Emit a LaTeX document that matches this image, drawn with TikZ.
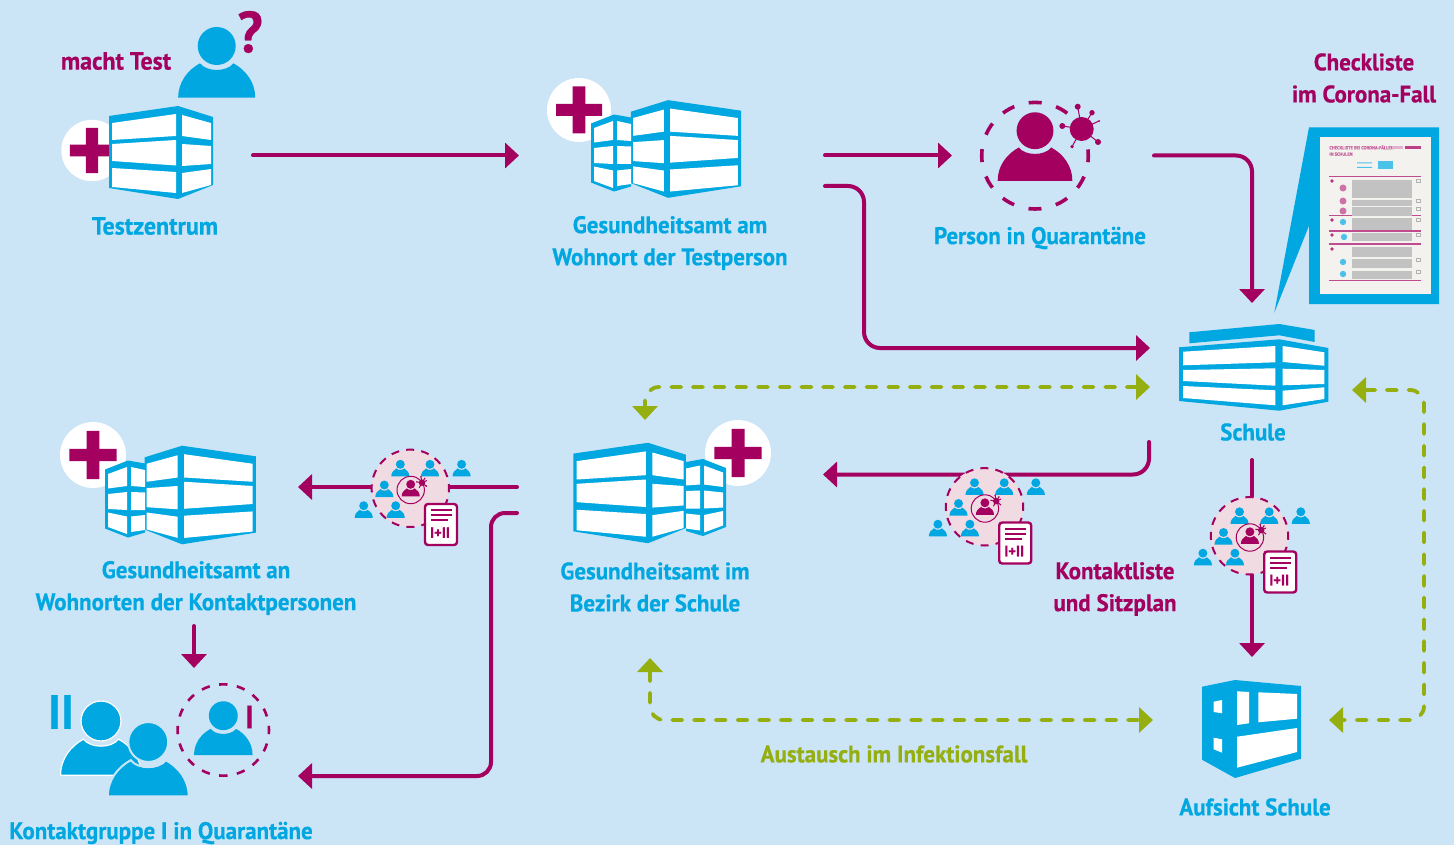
\documentclass[tikz,border=0pt]{standalone}
\usepackage{fontspec}
\usepackage{xcolor}
\usepackage{tikz}
\usetikzlibrary{arrows.meta}
\setmainfont[BoldFeatures={FakeStretch=.958,FakeBold=.5}]{PT Sans}
\definecolor{hintergrund}{HTML}{CBE4F6}
\definecolor{amtblau}{HTML}{00A7E0}
\definecolor{lila}{HTML}{A4005F}
\definecolor{gruen}{HTML}{95AE10}
\definecolor{rosa}{HTML}{F0DBE3}
\definecolor{papier}{HTML}{F4F2EF}
\tikzset{
	pics/person/.style={code={
		\path[pic actions] (0,0) circle[radius=19];
		\path[pic actions] (-38.5,51.7) .. controls (-38.5,36) and (-29,24) .. (-16.7,17.3) .. controls (-10,26.2) and (10,26.2) .. (16.7,17.3) .. controls (29,24) and (38.5,36) .. (38.5,51.7) -- cycle;
	}},
	pics/virus/.style={code={
		\foreach \kx/\ky/\kr in {-4/-22.3/3,10.3/-16.3/2.7,17.3/-8/1,16.3/13/3,-9.7/17.7/1.8,-19.4/-3/3}{
			\draw[lila,line width=.5pt] (0,0) -- (\kx,\ky);
			\fill[lila] (\kx,\ky) circle[radius=\kr];
		}
		\fill[lila] (0,0) circle[radius=12];
	}},
	pics/block/.style={code={
		\fill[amtblau] (-69,-36.5) -- (0,-46.5) -- (35,-35.5) -- (35,32.5) -- (0,46.5) -- (-69,35.5) -- cycle;
		\fill[white] (-66,-29.5) -- (-2,-38.5) -- (-2,-16.5) -- (-66,-12.5) -- cycle
			(-66,-8.5) -- (-2,-12.5) -- (-2,13) -- (-66,8.5) -- cycle
			(-66,15.5) -- (-2,19.5) -- (-2,40.5) -- (-66,34.5) -- cycle
			(4,-37.5) -- (33,-29.5) -- (33,-12.5) -- (4,-16.5) -- cycle
			(4,-8.5) -- (33,-6.5) -- (33,11.5) -- (4,13.5) -- cycle
			(4,20.5) -- (33,16.5) -- (33,32.5) -- (4,40.5) -- cycle;
	}},
	pics/anbau/.style={code={
		\fill[amtblau] (-17,-35.5) -- (0,-38.5) -- (23,-29.5) -- (23,29.5) -- (0,38.5) -- (-17,33.5) -- cycle;
		\fill[white] (-17,-29) -- (-3,-32) -- (-3,-13) -- (-17,-12) -- cycle
			(-17,-6.5) -- (-3,-7) -- (-3,11) -- (-17,11) -- cycle
			(-17,16) -- (-3,17.5) -- (-3,33) -- (-17,31) -- cycle
			(1,-32) -- (20,-25) -- (20,-10.5) -- (1,-13) -- cycle
			(1,-7) -- (20,-5) -- (20,10) -- (1,11) -- cycle
			(1,17.5) -- (20,13.5) -- (20,28) -- (1,35) -- cycle;
	}},
	pics/kreuz/.style={code={
		\fill[white] (0,0) circle[radius=32];
		\fill[lila] (-23,-6) rectangle (23,6) (-6.3,-23.5) rectangle (6.3,23.5);
	}},
	pics/liste/.style={code={
		\draw[lila,fill=white,line width=1.2pt,rounded corners=1.5pt] (-16,-20.5) rectangle (16,20.5);
		\draw[lila,line width=1pt] (-10,-14.5) -- (11,-14.5) (-10,-9.5) -- (11,-9.5) (-10,-4.5) -- (7,-4.5);
		\node[text=lila,font=\fontsize{7.5}{8}\selectfont\bfseries,inner sep=0pt] (-nummer) at (-1,8) {I+II};
	}},
	pics/kontakt/.style={code={
		\draw[lila,fill=rosa,line width=1pt,dash pattern=on 4pt off 3.59pt,dash phase=2pt] (0,0) circle[radius=38.7];
		\foreach \kx/\ky in {-10/-24,19.7/-24,51.3/-24,-26/-3.3,-46.6/17.4,-14.6/17.4}{
			\pic[fill=amtblau,scale=.235] at (\kx,\ky) {person};
		}
		\draw[lila,line width=.5pt] (.4,1.7) circle[radius=13.7];
		\pic[fill=lila,scale=.235] at (.4,-4) {person};
		\pic[scale=.27] at (11.7,-5.6) {virus};
		\pic (-doc) at (30.7,36.2) {liste};
	}},
	lilapfeil/.style={lila,line width=2pt,line cap=round,-{Triangle[length=7pt,width=12.5pt]}},
	gruenpfeil/.style={gruen,line width=1.9pt,line cap=round,dash pattern=on 5pt off 5.85pt,rounded corners=7pt,{Triangle[length=7pt,width=12.5pt]}-{Triangle[length=7pt,width=12.5pt]}},
	blautext/.style={text=amtblau,font=\fontsize{12}{16}\selectfont\bfseries,align=center,inner sep=0pt},
	lilatext/.style={text=lila,font=\fontsize{12}{16}\selectfont\bfseries,align=center,inner sep=0pt},
	gruentext/.style={text=gruen,font=\fontsize{12}{16}\selectfont\bfseries,align=center,inner sep=0pt}
}
\begin{document}
\begin{tikzpicture}[x=.5pt,y=-.5pt]
	\fill[hintergrund] (0,0) rectangle (1454,845);
	\useasboundingbox (0,0) rectangle (1454,845);

	\coordinate (zentrumOut) at (253,155.5);
	\coordinate (wohnortIn) at (519,155.5);
	\coordinate (wohnortOutA) at (825,155.5);
	\coordinate (quarantaeneIn) at (952,155.5);
	\coordinate (wohnortOutB) at (825,186);
	\coordinate (wohnortVia) at (864,270);
	\coordinate (schuleInA) at (1150,348);
	\coordinate (quarantaeneOut) at (1154,155.5);
	\coordinate (schuleInB) at (1252,303);
	\coordinate (schuleOutA) at (1149,442);
	\coordinate (bezirkIn) at (823,474.5);
	\coordinate (schuleOutB) at (1252,460);
	\coordinate (aufsichtIn) at (1252,657);
	\coordinate (bezirkOutA) at (517,487);
	\coordinate (kontaktIn) at (298,487);
	\coordinate (bezirkOutB) at (517,513);
	\coordinate (bezirkVia) at (491,640);
	\coordinate (gruppeIn) at (298,776);
	\coordinate (kontaktOut) at (194,626);
	\coordinate (gruppeTop) at (194,668);
	\coordinate (schuleLinks) at (1150,387);
	\coordinate (bezirkOben) at (645,420);
	\coordinate (bezirkUnten) at (650,658);
	\coordinate (aufsichtLinks) at (1153,720);
	\coordinate (schuleRechts) at (1352,390);
	\coordinate (aufsichtRechts) at (1329,720);
	\coordinate (seiteVia) at (1424,550);

	\draw[lilapfeil] (zentrumOut) -- (wohnortIn);
	\draw[lilapfeil] (wohnortOutA) -- (quarantaeneIn);
	\draw[lilapfeil,rounded corners=8pt] (wohnortOutB) -| (wohnortVia) |- (schuleInA);
	\draw[lilapfeil,rounded corners=8pt] (quarantaeneOut) -| (schuleInB);
	\draw[lilapfeil,rounded corners=8pt] (schuleOutA) |- (bezirkIn);
	\draw[lilapfeil] (schuleOutB) -- (aufsichtIn);
	\draw[lilapfeil] (bezirkOutA) -- (kontaktIn);
	\draw[lilapfeil,rounded corners=7pt] (bezirkOutB) -| (bezirkVia) |- (gruppeIn);
	\draw[lilapfeil] (kontaktOut) -- (gruppeTop);
	\draw[gruenpfeil] (schuleLinks) -| (bezirkOben);
	\draw[gruenpfeil] (bezirkUnten) |- (aufsichtLinks);
	\draw[gruenpfeil] (schuleRechts) -| (seiteVia) |- (aufsichtRechts);

	\pic[fill=amtblau] at (216.7,46) {person};
	\node[text=lila,font=\fontsize{29}{29}\selectfont\bfseries,inner sep=0pt] (frage) at (250,32) {?};
	\pic[scale=.96] at (92,150.5) {kreuz};
	\pic at (178,152.5) {block};
	\pic at (579,110) {kreuz};
	\pic[xscale=-1.06,yscale=1.05] at (668,149) {block};
	\pic[xscale=-1,yscale=1] at (614,153) {anbau};
	\pic[fill=lila,scale=.97] at (1035,130.7) {person};
	\draw[lila,line width=1.8pt,dash pattern=on 6.5pt off 7.46pt,dash phase=3.25pt] (1035,155.7) circle[radius=53.3];
	\pic at (1081.7,129) {virus};

	\fill[amtblau] (1309,127.3) -- (1274.3,312.7) -- (1309,225.7) -- (1309,304) -- (1439,304) -- (1439,127.3) -- cycle;
	\fill[papier] (1320,137.3) rectangle (1431,294);
	\node[text=lila!60,font=\fontsize{2.3}{3.2}\selectfont\bfseries,align=left,inner sep=0pt,anchor=north west] (papierTitel) at (1329,145) {CHECKLISTE BEI CORONA-FÄLLEN\\IN SCHULEN};
	\fill[lila!75] (1405,146) rectangle (1421,149);
	\fill[lila!30] (1392,146) rectangle (1403,149);
	\foreach \ky in {176.7,215.7,231,244,280.7}{
		\fill[lila!70] (1329,\ky-.6) rectangle (1421,\ky+.6);
	}
	\foreach \ka/\kb in {180/197,200/205,207/215,218/229,233/240,247/256,259/267,271/278}{
		\foreach \ky in {\ka,...,\kb}{
			\fill[black!24] (1351.7,\ky) rectangle (1411.7,\ky+.55);
		}
	}
	\foreach \ky in {181,201,209,220,235,260,272}{
		\draw[black!30,line width=.25pt] (1416.5,\ky-1.5) rectangle (1420,\ky+1.5);
	}
	\foreach \ky in {181,220,235,249}{
		\fill[lila!80] (1332,\ky) circle[radius=1.8];
	}
	\foreach \kx/\ky in {1343/188,1343/201,1343/211}{
		\fill[lila!55] (\kx,\ky) circle[radius=3.5];
	}
	\foreach \kx/\ky in {1343/222,1344/237,1343/262,1343/274}{
		\fill[amtblau!70] (\kx,\ky) circle[radius=3.2];
	}
	\fill[amtblau!70] (1378,161) rectangle (1393,169);
	\fill[amtblau!70] (1357,162.5) rectangle (1372,163.5) (1357,167) rectangle (1372,168);

	\fill[amtblau] (1189.3,332.3) -- (1279.3,324) -- (1314.7,330) -- (1314.7,342) -- (1279.3,335.3) -- (1189.3,343.3) -- cycle;
	\fill[amtblau] (1179,347.3) -- (1279.3,339.3) -- (1328.3,348) -- (1328.3,401.7) -- (1279.3,410.7) -- (1179,401) -- cycle;
	\fill[white] (1183,351.7) -- (1275.3,346) -- (1275.3,362.3) -- (1183,365.3) -- cycle
		(1183,370) -- (1275.3,368.3) -- (1275.3,385.7) -- (1183,381) -- cycle
		(1183,386) -- (1275.3,390.3) -- (1275.3,405.3) -- (1183,398) -- cycle
		(1282.7,346) -- (1324.3,352.3) -- (1324.3,365.7) -- (1282.7,362) -- cycle
		(1282.7,368.7) -- (1324.3,370) -- (1324.3,384) -- (1282.7,385.3) -- cycle
		(1282.7,390.7) -- (1324.3,387.3) -- (1324.3,399) -- (1282.7,405.3) -- cycle;

	\pic[scale=1.03] at (738,453) {kreuz};
	\pic[scale=1.08] at (648,493) {block};
	\pic at (703,497.5) {anbau};
	\pic[scale=1.03] at (93,455) {kreuz};
	\pic[xscale=-1.07,yscale=1.06] at (182,495) {block};
	\pic[xscale=-1,yscale=1] at (128,499) {anbau};

	\pic (kontaktA) at (410.3,488.3) {kontakt};
	\pic (kontaktB) at (984.5,506.8) {kontakt};
	\pic (kontaktC) at (1249.5,535.8) {kontakt};

	\fill[amtblau] (1202,686.7) -- (1235,680) -- (1301,686) -- (1301,758.7) -- (1235,778) -- (1202,759.7) -- cycle;
	\fill[white] (1213.7,701.7) -- (1222,700) -- (1222,713.3) -- (1213.7,712) -- cycle
		(1213.7,737.7) -- (1222,739.3) -- (1222,752.7) -- (1213.7,749.3) -- cycle
		(1237,691.3) -- (1249,692) -- (1249,723.3) -- (1237,725) -- cycle
		(1258.3,692.3) -- (1297,694) -- (1297,718.7) -- (1258.3,722.3) -- cycle
		(1237,736.7) -- (1297,728) -- (1297,752) -- (1237,767.7) -- cycle;

	\pic[fill=amtblau,draw=white,line width=.6pt,scale=1.05] at (101,721) {person};
	\pic[fill=amtblau,draw=hintergrund,line width=1pt,scale=1.05] at (148.3,742) {person};
	\pic[fill=amtblau,scale=.76] at (223.3,715.7) {person};
	\draw[lila,line width=1.3pt,dash pattern=on 4.2pt off 4.77pt,dash phase=2.1pt] (223.3,730) circle[radius=45.7];
	\node[text=amtblau,font=\fontsize{24}{24}\selectfont\bfseries,inner sep=0pt] (zweierGruppe) at (61,712) {II};
	\node[text=lila,font=\fontsize{16}{16}\selectfont\bfseries,inner sep=0pt] (einerGruppe) at (249.5,717) {I};

	\node[lilatext,font=\fontsize{12.5}{16}\selectfont\bfseries] (machtTest) at (116,61) {macht Test};
	\node[blautext,font=\fontsize{12.5}{16}\selectfont\bfseries] (testzentrum) at (155,226) {Testzentrum};
	\node[blautext] (wohnort) at (670,243) {Gesundheitsamt am\\Wohnort der Testperson};
	\node[blautext] (quarantaene) at (1040,238) {Person in Quarantäne};
	\node[lilatext] (checkliste) at (1364,78) {Checkliste\\im Corona-Fall};
	\node[blautext] (schule) at (1253,432) {Schule};
	\node[blautext] (bezirk) at (655,587) {Gesundheitsamt im\\Bezirk der Schule};
	\node[blautext] (wohnorte) at (196,588) {Gesundheitsamt an\\Wohnorten der Kontaktpersonen};
	\node[blautext] (gruppe) at (161,833) {Kontaktgruppe I in Quarantäne};
	\node[lilatext] (sitzplan) at (1115,589) {Kontaktliste\\und Sitzplan};
	\node[gruentext] (austausch) at (894,754) {Austausch im Infektionsfall};
	\node[blautext] (aufsicht) at (1255,807) {Aufsicht Schule};
\end{tikzpicture}
\end{document}
